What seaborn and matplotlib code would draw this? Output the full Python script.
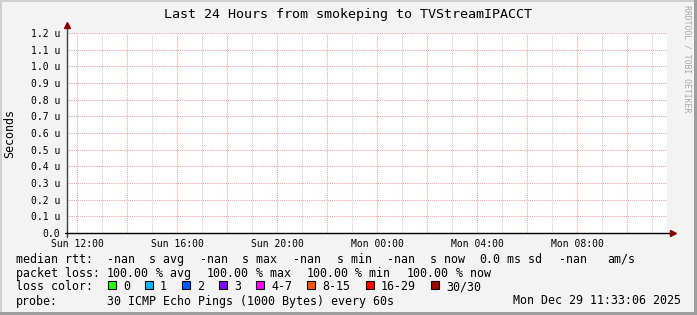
import numpy as np
import pandas as pd
import matplotlib
matplotlib.use("Agg")
import matplotlib.pyplot as plt
from matplotlib.patches import Rectangle
import seaborn as sns

# ---------------- data ----------------
# time axis in hours since Sunday 00:00 (window Sun 11:36 -> Mon 11:36)
time_start = 11.6
time_end = 35.6
tick_hours = [12, 14, 16, 18, 20, 22, 24, 26, 28, 30, 32, 34]
tick_labels = ["Sun 12:00", "", "Sun 16:00", "", "Sun 20:00", "", "Mon 00:00", "",
               "Mon 04:00", "", "Mon 08:00", ""]
# no replies received -> median rtt undefined for every sample
sample_hours = [12, 16, 20, 24, 28, 32]
median_rtt = [np.nan, np.nan, np.nan, np.nan, np.nan, np.nan]
y_ticks = [0.0, 0.1e-6, 0.2e-6, 0.3e-6, 0.4e-6, 0.5e-6, 0.6e-6, 0.7e-6, 0.8e-6,
           0.9e-6, 1.0e-6, 1.1e-6, 1.2e-6]
y_tick_labels = ["0.0", "0.1 u", "0.2 u", "0.3 u", "0.4 u", "0.5 u", "0.6 u",
                 "0.7 u", "0.8 u", "0.9 u", "1.0 u", "1.1 u", "1.2 u"]
loss_labels = ["0", "1", "2", "3", "4-7", "8-15", "16-29", "30/30"]
loss_colors = ["#26ff00", "#00b8ff", "#0059ff", "#7e00ff", "#ff00ff", "#ff5500",
               "#ff0000", "#a10000"]

title = "Last 24 Hours from smokeping to TVStreamIPACCT"

# ---------------- style ----------------
sns.set_theme(style="white")
MONO = ["DejaVu Sans Mono"]
plt.rcParams["font.family"] = MONO

W, H = 697, 315
fig = plt.figure(figsize=(W / 100, H / 100), dpi=100, facecolor="#f3f3f3")


def fx(x):
    return x / W


def fy(y):
    return 1 - y / H


ax = fig.add_axes([fx(67), fy(233), 600 / W, 200 / H])
ax.set_facecolor("white")

df = pd.DataFrame({"hour": sample_hours, "rtt": median_rtt})
sns.lineplot(data=df, x="hour", y="rtt", ax=ax, color="#00ff00")

ax.set_xlim(time_start, time_end)
ax.set_ylim(0, 1.2e-6)
ax.set_xlabel("")
ax.set_ylabel("")

ax.set_xticks(tick_hours)
ax.set_xticklabels(tick_labels)
ax.set_xticks(list(range(12, 36)), minor=True)
ax.set_yticks(y_ticks)
ax.set_yticklabels(y_tick_labels)

for s in ax.spines.values():
    s.set_visible(False)

# grids
red_grid = "#eba3a3"
grey_grid = "#cfcfcf"
ax.grid(False)
ax.xaxis.grid(True, which="minor", color=grey_grid, linestyle=(0, (1, 1)), linewidth=0.75)
ax.xaxis.grid(True, which="major", color=red_grid, linestyle=(0, (1, 1)), linewidth=0.75)
ax.yaxis.grid(True, which="major", color=red_grid, linestyle=(0, (1, 1)), linewidth=0.75)
ax.set_axisbelow(True)

ax.tick_params(axis="x", which="major", direction="out", length=2.5, width=0.7,
               color="#000000", pad=1.5, labelsize=7)
ax.tick_params(axis="x", which="minor", length=0)
ax.tick_params(axis="y", which="major", direction="out", length=2, width=0.7,
               color="#000000", pad=3, labelsize=7)
for lab in ax.get_xticklabels() + ax.get_yticklabels():
    lab.set_family(MONO)
    lab.set_color("#000000")

# axis lines with arrows (rrdtool style)
ax.plot([0, 0], [-4 / 200, 1 + 6 / 200], transform=ax.transAxes, color="#404040",
        lw=1.0, clip_on=False, zorder=5)
ax.plot([-2 / 600, 1 + 3 / 600], [0, 0], transform=ax.transAxes, color="#000000",
        lw=1.0, clip_on=False, zorder=5)
ax.plot([0], [1 + 8 / 200], transform=ax.transAxes, marker="^", color="#8b0000",
        markersize=4.5, clip_on=False, zorder=6)
ax.plot([1 + 6 / 600], [0], transform=ax.transAxes, marker=">", color="#8b0000",
        markersize=4.5, clip_on=False, zorder=6)

# title, label, watermark
fig.text(fx(348), fy(18), title, ha="center", va="baseline", fontsize=9.6,
         family=MONO, color="#000000")
fig.text(fx(10), fy(133), "Seconds", rotation=90, ha="center", va="center",
         fontsize=8.4, family=MONO, color="#000000")
fig.text(fx(687), fy(59), "RRDTOOL / TOBI OETIKER", rotation=270, ha="center",
         va="center", fontsize=5.9, family=MONO, color="#a8a8a8")

# legend block
LS = 8.4


def t(x, y, s, ha="left"):
    fig.text(fx(x), fy(y), s, ha=ha, va="baseline", fontsize=LS, family=MONO,
             color="#000000")


r1, r2, r3, r4 = 263, 277, 290.5, 304.5
row1 = [(16, "median rtt:"), (107, "-nan"), (149, "s avg"), (200, "-nan"),
        (242, "s max"), (293, "-nan"), (337, "s min"), (387, "-nan"),
        (430, "s now"), (479, "0.0"), (507, "ms sd"), (559, "-nan"), (607, "am/s")]
for x, s in row1:
    t(x, r1, s)
row2 = [(16, "packet loss:"), (107, "100.00"), (156, "% avg"), (207, "100.00"),
        (256, "% max"), (307, "100.00"), (355, "% min"), (407, "100.00"),
        (456, "% now")]
for x, s in row2:
    t(x, r2, s)
t(16, r3, "loss color:")
box_x = [108, 145, 182, 219, 256, 307, 366, 431]
for bx, lab, col in zip(box_x, loss_labels, loss_colors):
    fig.patches.append(Rectangle((fx(bx), fy(289)), 8 / W, 8 / H, transform=fig.transFigure,
                                 facecolor=col, edgecolor="#000000", linewidth=0.8))
    t(bx + 15, r3, lab)
t(16, r4, "probe:")
t(107, r4, "30 ICMP Echo Pings (1000 Bytes) every 60s")
t(681, r4, "Mon Dec 29 11:33:06 2025", ha="right")

# 3D frame around the image
fig.patches.append(Rectangle((0, 0), 2 / W, 1, transform=fig.transFigure,
                             facecolor="#cfcfcf", edgecolor="none"))
fig.patches.append(Rectangle((0, 1 - 2 / H), 1, 2 / H, transform=fig.transFigure,
                             facecolor="#cfcfcf", edgecolor="none"))
fig.patches.append(Rectangle((1 - 3 / W, 0), 3 / W, 1, transform=fig.transFigure,
                             facecolor="#9e9e9e", edgecolor="none"))
fig.patches.append(Rectangle((0, 0), 1, 3 / H, transform=fig.transFigure,
                             facecolor="#9e9e9e", edgecolor="none"))

fig.savefig("out.png", dpi=100, facecolor=fig.get_facecolor())
